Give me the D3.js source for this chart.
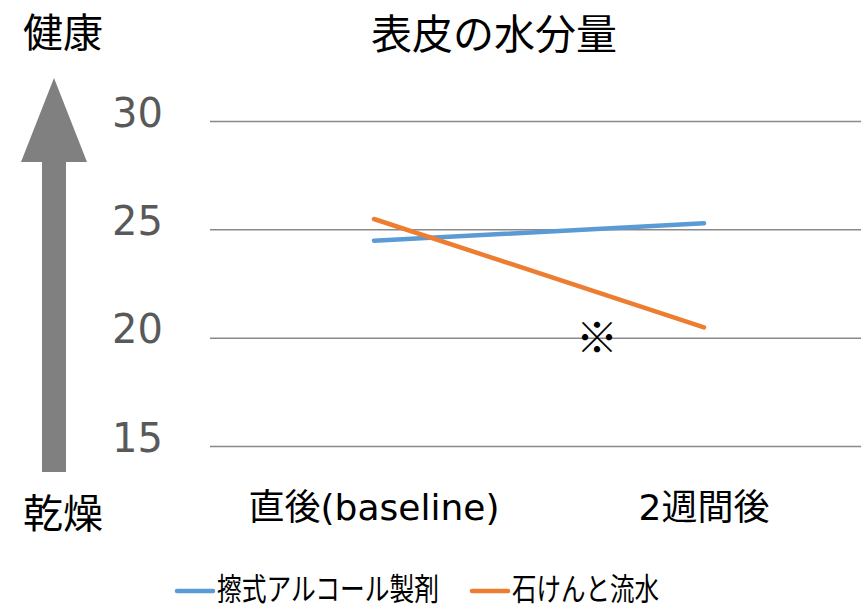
<!DOCTYPE html>
<html><head><meta charset="utf-8">
<script src="https://cdn.jsdelivr.net/npm/d3@7"></script>
<style>
html,body{margin:0;padding:0;background:#fff;}
svg text{font-family:"DejaVu Sans","Noto Sans CJK JP",sans-serif;}
.cjk{font-family:"Noto Sans CJK JP",sans-serif !important;}
</style></head>
<body>
<svg id="chart" width="861" height="607"></svg>
<script>
const categories = ["直後(baseline)", "2週間後"];
const seriesNames = ["擦式アルコール製剤", "石けんと流水"];
const alcohol = [24.5, 25.3];
const soap = [25.5, 20.5];
const yTicks = [15, 20, 25, 30];
const colors = ["#5B9BD5", "#ED7D31"];

const svg = d3.select("#chart");
const x = d3.scalePoint().domain(categories).range([209, 869]).padding(0.5);
const y = d3.scaleLinear().domain([15, 30]).range([446.5, 121.5]);

// gridlines
svg.append("g").selectAll("line").data(yTicks).join("line")
  .attr("x1", 210).attr("x2", 861)
  .attr("y1", d => y(d)).attr("y2", d => y(d))
  .attr("stroke", "#898989").attr("stroke-width", 1.5);

// y tick labels
svg.append("g").selectAll("text").data(yTicks).join("text")
  .attr("x", 163).attr("y", d => y(d) - 9)
  .attr("text-anchor", "end").attr("dominant-baseline", "central")
  .attr("font-size", 40).attr("fill", "#595959")
  .text(d => d);

// x labels
svg.append("g").selectAll("text").data(categories).join("text")
  .attr("x", d => x(d)).attr("y", 507)
  .attr("text-anchor", "middle").attr("dominant-baseline", "central")
  .attr("font-size", 36).attr("fill", "#000")
  .text(d => d);

// lines
const line = d3.line().x((d, i) => x(categories[i])).y(d => y(d));
[alcohol, soap].forEach((s, k) => {
  svg.append("path").datum(s).attr("d", line)
    .attr("fill", "none").attr("stroke", colors[k])
    .attr("stroke-width", 4.5).attr("stroke-linecap", "round");
});

// ※ mark
svg.append("text").attr("class", "cjk")
  .attr("x", 597).attr("y", y(20) - 4)
  .attr("text-anchor", "middle").attr("dominant-baseline", "central")
  .attr("font-size", 42).text("※");

// title
svg.append("text").attr("class", "cjk")
  .attr("x", 494).attr("y", 31)
  .attr("text-anchor", "middle").attr("dominant-baseline", "central")
  .attr("font-size", 41).text("表皮の水分量");

// health / dry labels
svg.append("text").attr("class", "cjk")
  .attr("x", 63).attr("y", 30)
  .attr("text-anchor", "middle").attr("dominant-baseline", "central")
  .attr("font-size", 40).text("健康");
svg.append("text").attr("class", "cjk")
  .attr("x", 63).attr("y", 511)
  .attr("text-anchor", "middle").attr("dominant-baseline", "central")
  .attr("font-size", 40).text("乾燥");

// arrow
svg.append("path")
  .attr("d", d3.line()([[42,472],[42,162],[21,162],[54,78],[87,162],[66,162],[66,472]]) + "Z")
  .attr("fill", "#808080");

// legend
const legendItems = [{x: 177, tx: 217, w: 222}, {x: 472, tx: 512, w: 147}];
seriesNames.forEach((n, k) => {
  const L = legendItems[k];
  svg.append("line").attr("x1", L.x).attr("x2", L.x + 36)
    .attr("y1", 591).attr("y2", 591)
    .attr("stroke", colors[k]).attr("stroke-width", 4.5).attr("stroke-linecap", "round");
  svg.append("text").attr("class", "cjk")
    .attr("x", L.tx).attr("y", 586)
    .attr("dominant-baseline", "central")
    .attr("textLength", L.w).attr("lengthAdjust", "spacingAndGlyphs")
    .attr("font-size", 31).text(n);
});
</script>
</body></html>
